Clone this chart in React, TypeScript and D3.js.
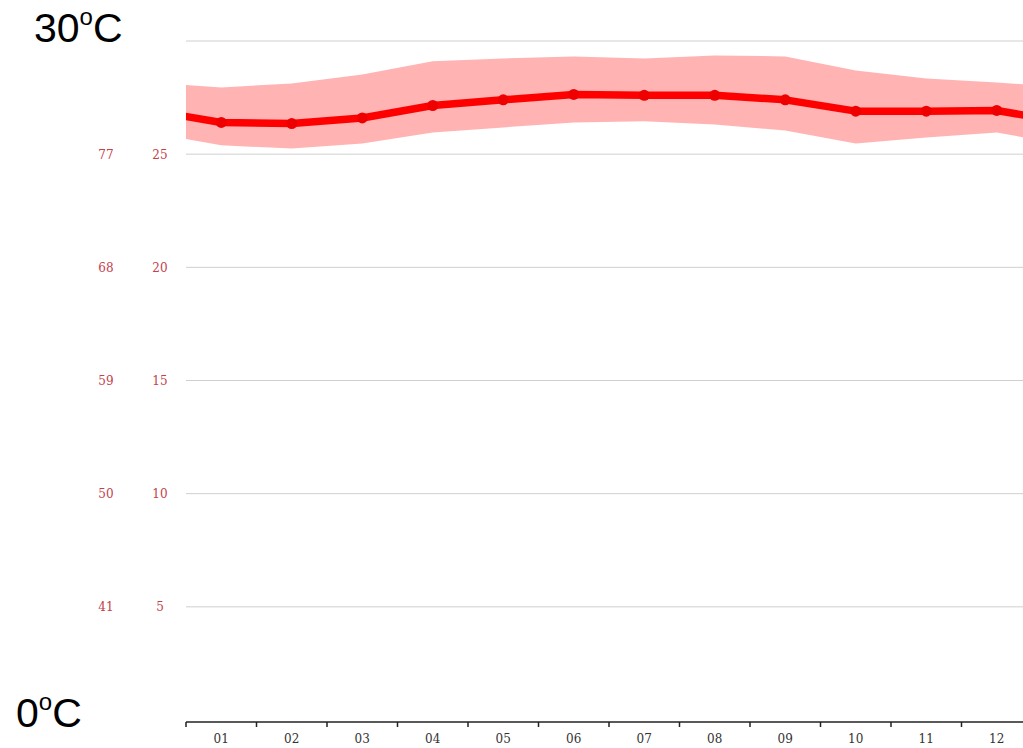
import { useEffect, useRef } from 'react'
import * as d3 from 'd3'

const months = ['01', '02', '03', '04', '05', '06', '07', '08', '09', '10', '11', '12']
const avgTemp = [26.4, 26.35, 26.6, 27.15, 27.4, 27.64, 27.6, 27.6, 27.4, 26.9, 26.9, 26.93]
const maxTemp = [27.95, 28.12, 28.52, 29.1, 29.23, 29.32, 29.23, 29.36, 29.32, 28.7, 28.34, 28.17]
const minTemp = [25.39, 25.25, 25.47, 25.96, 26.18, 26.4, 26.45, 26.31, 26.05, 25.47, 25.74, 25.96]
const celsiusTicks = [5, 10, 15, 20, 25]
const fahrenheitTicks = ['41', '50', '59', '68', '77']
const gridTicks = [5, 10, 15, 20, 25, 30]

const W = 1023, H = 748
const X0 = 186, STEP = 70.5, RIGHT = 1023

export default function App() {
  const gRef = useRef<SVGGElement>(null)

  useEffect(() => {
    const g = d3.select(gRef.current)
    g.selectAll('*').remove()

    const x = d3.scaleLinear([0.5, 12.5], [X0, X0 + 12 * STEP])
    const y = d3.scaleLinear([0, 30], [720, 41])

    // gridlines
    g.append('g').selectAll('line').data(gridTicks).join('line')
      .attr('x1', X0).attr('x2', RIGHT)
      .attr('y1', (d) => y(d)).attr('y2', (d) => y(d))
      .attr('stroke', '#cfcfcf').attr('stroke-width', 1)

    // y labels
    g.append('g').selectAll('text').data(celsiusTicks).join('text')
      .attr('x', 160).attr('y', (d) => y(d) + 4.5)
      .attr('text-anchor', 'middle')
      .attr('font-family', '"DejaVu Serif", serif').attr('font-size', 12)
      .attr('fill', '#c4404a').text((d) => d)
    g.append('g').selectAll('text').data(fahrenheitTicks).join('text')
      .attr('x', 106).attr('y', (_, i) => y(celsiusTicks[i]) + 4.5)
      .attr('text-anchor', 'middle')
      .attr('font-family', '"DejaVu Serif", serif').attr('font-size', 12)
      .attr('fill', '#c4404a').text((d) => d)

    // wrap-around data so the ends continue off the plot
    const idx = d3.range(0, 14)
    const wrap = (arr: number[], i: number) => arr[(i + 11) % 12]

    g.append('defs').append('clipPath').attr('id', 'plotclip')
      .append('rect').attr('x', X0).attr('y', 0).attr('width', RIGHT - X0).attr('height', 720)

    const plot = g.append('g').attr('clip-path', 'url(#plotclip)')

    const area = d3.area<number>()
      .x((i) => x(i))
      .y0((i) => y(wrap(minTemp, i)))
      .y1((i) => y(wrap(maxTemp, i)))
    plot.append('path').datum(idx).attr('d', area).attr('fill', '#ffb3b3')

    const line = d3.line<number>()
      .x((i) => x(i))
      .y((i) => y(wrap(avgTemp, i)))
    plot.append('path').datum(idx).attr('d', line)
      .attr('fill', 'none').attr('stroke', '#ff0000').attr('stroke-width', 7.5)
      .attr('stroke-linejoin', 'round')

    plot.append('g').selectAll('circle').data(avgTemp).join('circle')
      .attr('cx', (_, i) => x(i + 1)).attr('cy', (d) => y(d))
      .attr('r', 5.5).attr('fill', '#ee0000')

    // x axis
    g.append('line').attr('x1', X0).attr('x2', RIGHT).attr('y1', 722).attr('y2', 722)
      .attr('stroke', '#222').attr('stroke-width', 1.5)
    g.append('g').selectAll('line').data(d3.range(0, 12)).join('line')
      .attr('x1', (i) => x(i + 0.5)).attr('x2', (i) => x(i + 0.5))
      .attr('y1', 722).attr('y2', 727)
      .attr('stroke', '#222').attr('stroke-width', 1.5)
    g.append('g').selectAll('text').data(months).join('text')
      .attr('x', (_, i) => x(i + 1)).attr('y', 743)
      .attr('text-anchor', 'middle')
      .attr('font-family', '"DejaVu Serif", serif').attr('font-size', 12)
      .attr('fill', '#333').text((d) => d)
  }, [])

  const big = { fontFamily: '"Liberation Sans", Arial, sans-serif', fontSize: 41, fill: '#000' }

  return (
    <svg width={W} height={H} viewBox={`0 0 ${W} ${H}`}
      style={{ position: 'absolute', left: 0, top: 0, background: '#fff' }}>
      <g ref={gRef} />
      <text x={34} y={42} style={big}>
        30<tspan fontSize={24} dy={-17}>o</tspan><tspan dy={17}>C</tspan>
      </text>
      <text x={16} y={727} style={big}>
        0<tspan fontSize={24} dy={-17}>o</tspan><tspan dy={17}>C</tspan>
      </text>
    </svg>
  )
}
